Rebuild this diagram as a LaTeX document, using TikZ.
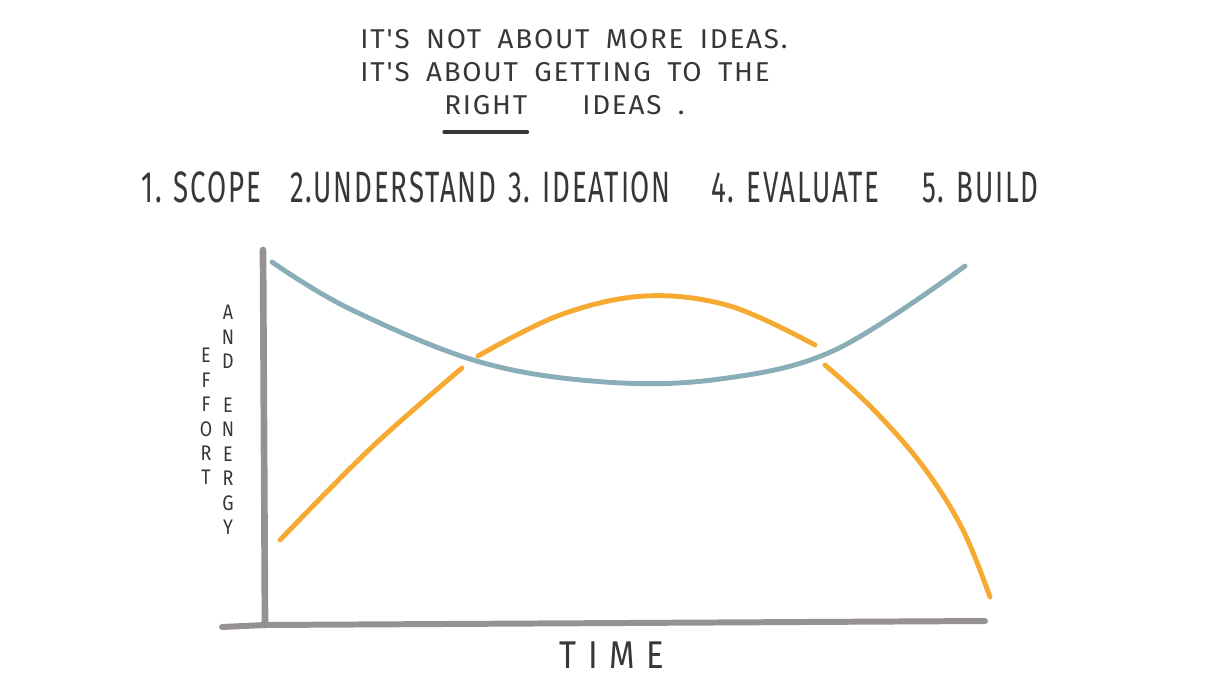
\documentclass[tikz,border=0pt]{standalone}
\usepackage{fontspec}
\setmainfont{Fira Sans}[FakeStretch=0.85]
\newfontfamily\handfont{Fira Sans}[FakeStretch=1.02, LetterSpace=6.5, WordSpace=1.8]
\newfontfamily\phasefont{Fira Sans}[FakeStretch=0.63, LetterSpace=4]
\newfontfamily\wideletters{Fira Sans}[FakeStretch=0.85, LetterSpace=30]
\usepackage{xcolor}
\usepackage{tikz}
\usetikzlibrary{positioning}

\definecolor{ink}{RGB}{55,55,55}
\definecolor{axisgray}{RGB}{150,146,145}
\definecolor{effortblue}{RGB}{138,174,184}
\definecolor{ideaorange}{RGB}{246,170,50}

\begin{document}
\begin{tikzpicture}[
    x=0.02cm, y=-0.02cm,
    hand/.style={text=ink, inner sep=0pt, text height=9pt, text depth=1pt,
                 font=\handfont\fontsize{15.5}{18}\selectfont},
    phase/.style={text=ink, inner sep=0pt, text height=13pt, text depth=1pt,
                  font=\phasefont\fontsize{25}{28}\selectfont},
    stack/.style={text=ink, inner sep=0pt, align=center, font=\fontsize{12}{13.9}\selectfont},
    axis/.style={draw=axisgray, line width=3.8pt, line cap=round},
    curve/.style={line width=2.8pt, line cap=round}
  ]
    \useasboundingbox (0,0) rectangle (1207,679);

    % heading
    \node[hand, anchor=west] (l1) at (360,41) {IT'S NOT ABOUT MORE IDEAS.};
    \node[hand, anchor=west] (l2) at (360,74) {IT'S ABOUT GETTING TO THE};
    \node[hand, anchor=west] (l3a) at (444,107) {RIGHT};
    \node[hand, anchor=west] (l3b) at (582,107) {IDEAS .};
    \draw[ink, line width=1.8pt, line cap=round]
      ([yshift=-9pt]l3a.south west) -- ([yshift=-9pt]l3a.south east);

    % phases
    \node[phase, anchor=west] (s1) at (141,192) {1. SCOPE};
    \node[phase, anchor=west] (s2) at (290,192) {2.UNDERSTAND};
    \node[phase, anchor=west] (s3) at (508,192) {3. IDEATION};
    \node[phase, anchor=west] (s4) at (711,192) {4. EVALUATE};
    \node[phase, anchor=west] (s5) at (922,192) {5. BUILD};

    % axes
    \coordinate (o) at (265,625);
    \coordinate (ytop) at (263,250);
    \coordinate (xstart) at (222,627);
    \coordinate (xend) at (985,621);
    \draw[axis] (o) -- (ytop);
    \draw[axis, line width=3.4pt] (xstart) -- (o) -- (xend);

    \node[stack, anchor=north] (ylab1) at (206,348) {E\\F\\F\\O\\R\\T};
    \node[stack, anchor=north] (ylab2) at (228,305) {A\\N\\D\\[11pt]E\\N\\E\\R\\G\\Y};
    \node[text=ink, inner sep=0pt, font=\wideletters\fontsize{22}{24}\selectfont]
      (xlab) at (612,655) {TIME};

    % effort curve
    \foreach \n/\p in {b1/{272,262}, b2/{350,309}, b3/{480,362},
                      b4/{605,382}, b5/{720,379}, b6/{835,350}, b7/{965,266}}
      \coordinate (\n) at (\p);
    \draw[curve, effortblue] plot[smooth, tension=0.6]
      coordinates {(b1) (b2) (b3) (b4) (b5) (b6) (b7)};

    % energy curve, three strokes
    \foreach \n/\p in {e1/{280,540}, e2/{372,447}, e3/{462,368},
                      e4/{478,356}, e5/{560,315}, e6/{645,296}, e7/{730,306},
                      e8/{815,345}, e9/{825,365}, e10/{872,408}, e11/{922,465},
                      e12/{962,528}, e13/{990,597}}
      \coordinate (\n) at (\p);
    \draw[curve, ideaorange] plot[smooth, tension=0.6] coordinates {(e1) (e2) (e3)};
    \draw[curve, ideaorange] plot[smooth, tension=0.6]
      coordinates {(e4) (e5) (e6) (e7) (e8)};
    \draw[curve, ideaorange] plot[smooth, tension=0.6]
      coordinates {(e9) (e10) (e11) (e12) (e13)};
  \end{tikzpicture}
\end{document}
